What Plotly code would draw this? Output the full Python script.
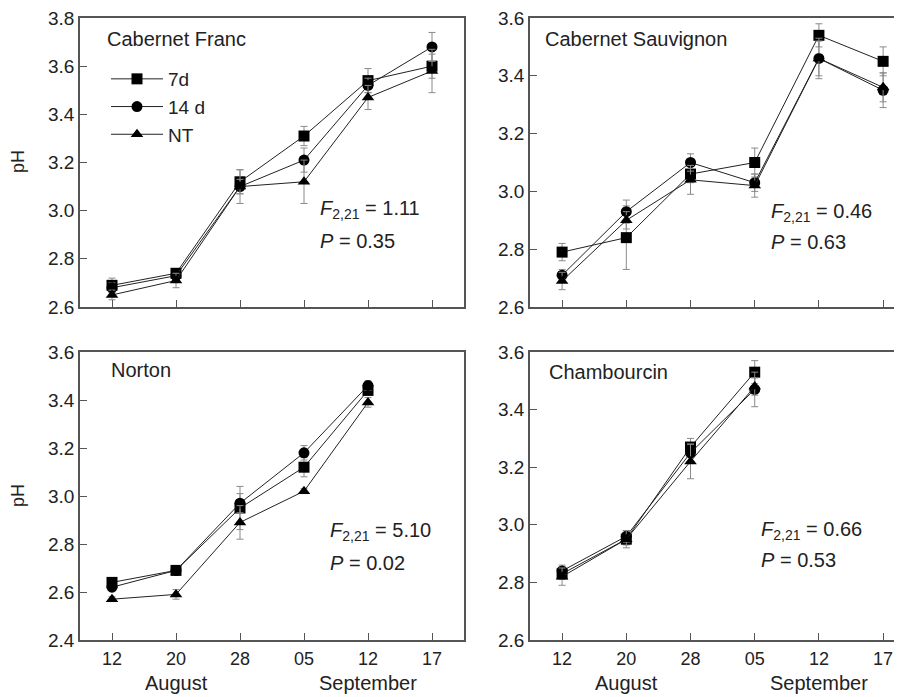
import plotly.graph_objects as go

# ---------------- data ----------------
tick_labels = ["12", "20", "28", "05", "12", "17"]
tick_pos = [0, 1, 2, 3, 4, 5]
series_names = ["7d", "14 d", "NT"]

cf_7d = [2.69, 2.74, 3.12, 3.31, 3.54, 3.60]
cf_7d_err = [0.03, 0.01, 0.05, 0.04, 0.05, 0.05]
cf_14d = [2.68, 2.73, 3.10, 3.21, 3.52, 3.68]
cf_14d_err = [0.02, 0.01, 0.03, 0.05, 0.03, 0.06]
cf_nt = [2.65, 2.71, 3.10, 3.12, 3.47, 3.58]
cf_nt_err = [0.02, 0.03, 0.07, 0.09, 0.05, 0.09]

cs_7d = [2.79, 2.84, 3.06, 3.10, 3.54, 3.45]
cs_7d_err = [0.03, 0.11, 0.03, 0.05, 0.04, 0.05]
cs_14d = [2.71, 2.93, 3.10, 3.03, 3.46, 3.35]
cs_14d_err = [0.02, 0.04, 0.03, 0.03, 0.07, 0.06]
cs_nt = [2.69, 2.90, 3.04, 3.02, 3.46, 3.36]
cs_nt_err = [0.03, 0.03, 0.05, 0.04, 0.06, 0.05]

no_7d = [2.64, 2.69, 2.95, 3.12, 3.44]
no_7d_err = [0.01, 0.01, 0.09, 0.04, 0.02]
no_14d = [2.62, 2.69, 2.97, 3.18, 3.46]
no_14d_err = [0.01, 0.01, 0.04, 0.03, 0.02]
no_nt = [2.57, 2.59, 2.89, 3.02, 3.39]
no_nt_err = [0.01, 0.02, 0.07, 0.01, 0.02]

ch_7d = [2.83, 2.95, 3.27, 3.53]
ch_7d_err = [0.02, 0.02, 0.03, 0.04]
ch_14d = [2.84, 2.96, 3.25, 3.47]
ch_14d_err = [0.02, 0.02, 0.03, 0.06]
ch_nt = [2.82, 2.95, 3.22, 3.48]
ch_nt_err = [0.03, 0.03, 0.06, 0.03]

panel_titles = ["Cabernet Franc", "Cabernet Sauvignon", "Norton", "Chambourcin"]
f_values = ["1.11", "0.46", "5.10", "0.66"]
p_values = ["0.35", "0.63", "0.02", "0.53"]
y_ranges = [[2.6, 3.8], [2.6, 3.6], [2.4, 3.6], [2.6, 3.6]]
month_labels = ["August", "September"]
month_pos = [1, 4]

panels = [
    [(cf_7d, cf_7d_err), (cf_14d, cf_14d_err), (cf_nt, cf_nt_err)],
    [(cs_7d, cs_7d_err), (cs_14d, cs_14d_err), (cs_nt, cs_nt_err)],
    [(no_7d, no_7d_err), (no_14d, no_14d_err), (no_nt, no_nt_err)],
    [(ch_7d, ch_7d_err), (ch_14d, ch_14d_err), (ch_nt, ch_nt_err)],
]

# ---------------- layout geometry ----------------
# the page body keeps its default 8px margin: the figure starts at (8, 8) in the window
OFF = 8
W, H = 902 - OFF, 697 - OFF
FONT = "Liberation Sans, Arial, sans-serif"
AX = "#555555"
TXT = "#222222"

def px_x(p):
    return (p - OFF) / W

def px_y(p):
    return 1 - (p - OFF) / H

x_domains = [[px_x(80), px_x(464)], [px_x(530), 1.0], [px_x(80), px_x(464)], [px_x(530), 1.0]]
y_domains = [[px_y(307), px_y(18)], [px_y(307), px_y(18)], [px_y(640), px_y(352)], [px_y(640), px_y(352)]]
x_ranges = [[-0.5, 5.5], [-0.5, 5.294], [-0.5, 5.5], [-0.5, 5.294]]

symbols = ["square", "circle", "triangle-up"]
msizes = [11, 11, 11]

fig = go.Figure()

for i, panel in enumerate(panels):
    xa = "x" if i == 0 else f"x{i+1}"
    ya = "y" if i == 0 else f"y{i+1}"
    for s, (vals, errs) in enumerate(panel):
        fig.add_trace(go.Scatter(
            x=tick_pos[:len(vals)], y=vals,
            mode="lines+markers",
            name=series_names[s],
            legendgroup=series_names[s],
            showlegend=(i == 0),
            xaxis=xa, yaxis=ya,
            line=dict(color="#222222", width=1),
            marker=dict(symbol=symbols[s], size=msizes[s], color="black"),
            error_y=dict(type="data", array=errs, visible=True,
                         color="#8a8a8a", thickness=1, width=3.5),
        ))

layout = dict(
    width=W, height=H,
    autosize=False,
    margin=dict(l=0, r=0, t=0, b=0, pad=0, autoexpand=False),
    paper_bgcolor="white", plot_bgcolor="white",
    font=dict(family=FONT, size=20, color=TXT),
    showlegend=True,
    legend=dict(x=px_x(106), y=px_y(60), xanchor="left", yanchor="top",
                bgcolor="rgba(0,0,0,0)", font=dict(size=19, family=FONT, color=TXT),
                itemwidth=52, tracegroupgap=0),
)

for i in range(4):
    xk = "xaxis" if i == 0 else f"xaxis{i+1}"
    yk = "yaxis" if i == 0 else f"yaxis{i+1}"
    xa = "x" if i == 0 else f"x{i+1}"
    ya = "y" if i == 0 else f"y{i+1}"
    right_panel = i in (1, 3)
    bottom_panel = i in (2, 3)
    layout[xk] = dict(
        domain=x_domains[i], range=x_ranges[i], anchor=ya, automargin=False,
        tickmode="array", tickvals=tick_pos, ticktext=tick_labels,
        showticklabels=bottom_panel, ticklabelstandoff=2, ticklabeloverflow="allow",
        ticks="inside", ticklen=7, tickwidth=1, tickcolor=AX,
        showline=True, linecolor=AX, linewidth=1.5, mirror=True,
        showgrid=False, zeroline=False,
        tickfont=dict(size=18, family=FONT, color=TXT),
    )
    layout[yk] = dict(
        domain=y_domains[i], range=y_ranges[i], anchor=xa, automargin=False,
        dtick=0.2, tick0=2.4, tickformat=".1f", ticklabeloverflow="allow",
        ticks="inside", ticklen=7, tickwidth=1, tickcolor=AX,
        showline=True, linecolor=AX, linewidth=1.5, mirror=(not right_panel),
        showgrid=False, zeroline=False,
        tickfont=dict(size=19, family=FONT, color=TXT),
    )

fig.update_layout(**layout)

# panel titles
title_pos = [(105, 39), (543, 39), (109, 370), (547, 372)]
for (tx, ty), t in zip(title_pos, panel_titles):
    fig.add_annotation(text=t, x=px_x(tx), y=px_y(ty), xref="paper", yref="paper",
                       xanchor="left", yanchor="middle", showarrow=False,
                       font=dict(size=20, family=FONT, color=TXT))

# statistics
f_pos = [(318, 210, 241), (769, 212, 242), (328, 531, 563), (759, 530, 560)]
for (fx, fy, py), fv, pv in zip(f_pos, f_values, p_values):
    fig.add_annotation(text=f"<i>F</i><sub>2,21</sub> = {fv}", x=px_x(fx), y=px_y(fy),
                       xref="paper", yref="paper", xanchor="left", yanchor="middle",
                       showarrow=False, font=dict(size=20, family=FONT, color=TXT))
    fig.add_annotation(text=f"<i>P</i> = {pv}", x=px_x(fx), y=px_y(py),
                       xref="paper", yref="paper", xanchor="left", yanchor="middle",
                       showarrow=False, font=dict(size=20, family=FONT, color=TXT))

# month labels
for xa in ["x3", "x4"]:
    for m, mp in zip(month_labels, month_pos):
        fig.add_annotation(text=m, x=mp, y=px_y(683), xref=xa, yref="paper",
                           xanchor="center", yanchor="middle", showarrow=False,
                           font=dict(size=20, family=FONT, color=TXT))

# pH axis titles
for cy in [162, 496]:
    fig.add_annotation(text="pH", x=px_x(18), y=px_y(cy), xref="paper", yref="paper",
                       xanchor="center", yanchor="middle", textangle=-90, showarrow=False,
                       font=dict(size=18, family=FONT, color=TXT))

fig.write_html("out.html")
